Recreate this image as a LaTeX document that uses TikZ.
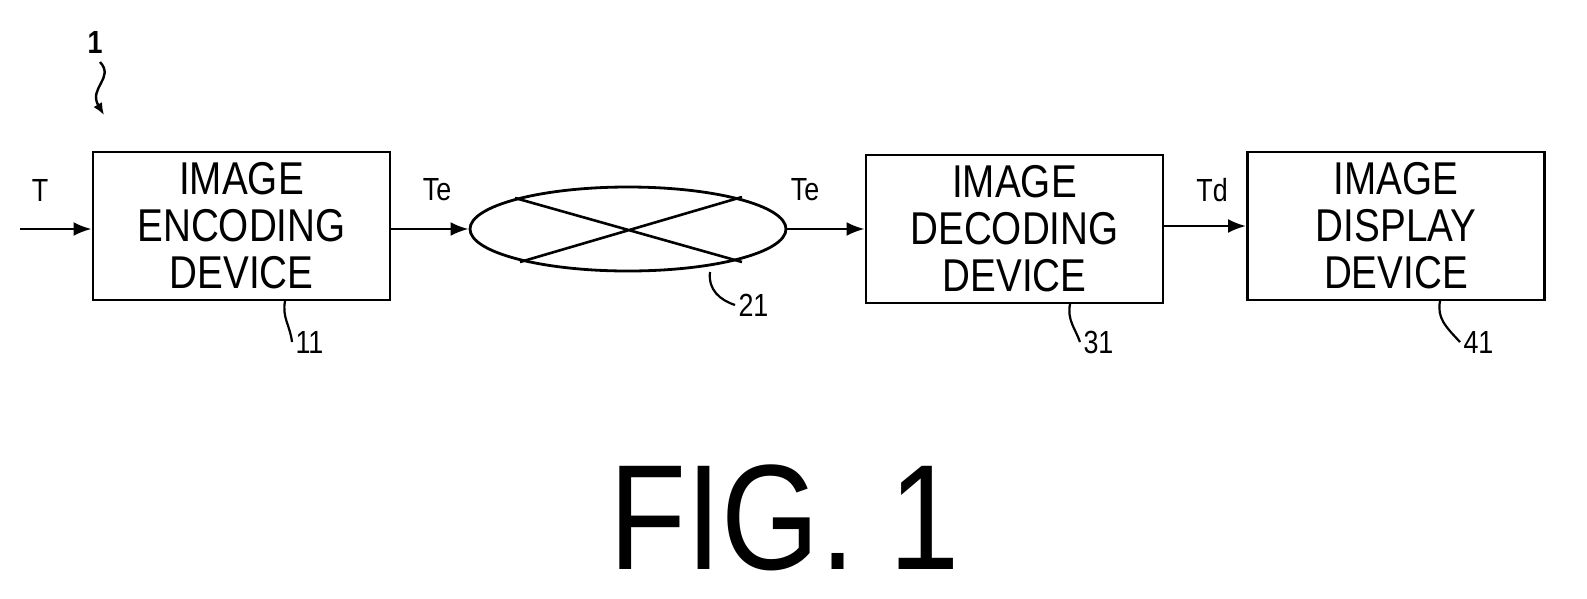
\documentclass[tikz,border=0pt]{standalone}
\usepackage{fontspec}
\setmainfont{Liberation Sans}[FakeStretch=0.84]
\usetikzlibrary{arrows.meta,shapes.geometric}
\begin{document}
\begin{tikzpicture}[x=1pt,y=-1pt,
  blk/.style={draw,line width=2.8pt,minimum width=297pt,minimum height=148pt,align=center,font=\fontsize{46}{47}\selectfont,inner sep=0pt},
  lab/.style={font=\fontsize{32}{32}\selectfont},
  arr/.style={line width=2.6pt,-{Latex[length=18pt,width=14pt]}},
  lead/.style={line width=2.2pt}]
\useasboundingbox (0,0) rectangle (1587,598);
\node[blk] (enc) at (241.5,226) {IMAGE\\ENCODING\\DEVICE};
\node[draw,ellipse,line width=2.8pt,minimum width=316pt,minimum height=84pt,inner sep=0pt] (net) at (628,229) {};
\node[blk] (dec) at (1014.5,229) {IMAGE\\DECODING\\DEVICE};
\node[blk] (dis) at (1396,226) {IMAGE\\DISPLAY\\DEVICE};
\coordinate (in) at (20,229);
\draw[arr] (in) -- (in-|enc.west);
\draw[arr] (enc.east|-net.west) -- (net.west);
\draw[arr] (net.east) -- (net.east-|dec.west);
\draw[arr] (dec.east|-dis.west) -- (dis.west);
\draw[line width=2.6pt] (515,198) -- (742,262) (520,262) -- (742,197);
\node[lab] (tT) at (40,190) {T};
\node[lab] (tTe1) at (437,190) {Te};
\node[lab] (tTe2) at (805,190) {Te};
\node[lab] (tTd) at (1212,190) {Td};
\node[lab,font=\bfseries\fontsize{32}{32}\selectfont] (one) at (95,42) {1};
\coordinate (oneA) at (100,62);
\coordinate (oneB) at (104,115);
\draw[line width=2.4pt,-{Latex[length=12pt,width=10pt]}] (oneA) .. controls (115,78) and (88,88) .. (oneB);
\node[lab,anchor=west] (n11) at (292,342) {11};
\node[lab,anchor=west] (n21) at (735,305) {21};
\node[lab,anchor=west] (n31) at (1080,342) {31};
\node[lab,anchor=west] (n41) at (1460,342) {41};
\draw[lead] (285,301) .. controls (282,318) and (290,325) .. (n11.west);
\draw[lead] (710,272) .. controls (708,290) and (720,300) .. (n21.west);
\draw[lead] (1070,304) .. controls (1067,320) and (1075,328) .. (n31.west);
\draw[lead] (1440,301) .. controls (1437,318) and (1445,326) .. (n41.west);
\node[font=\fontsize{150}{150}\selectfont] (fig) at (785,518) {FIG. 1};
\end{tikzpicture}
\end{document}
